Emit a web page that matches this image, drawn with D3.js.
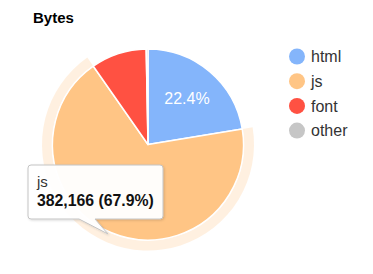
<!DOCTYPE html>
<html>
<head>
<meta charset="utf-8">
<script src="https://cdn.jsdelivr.net/npm/d3@7"></script>
<style>
  body { margin: 0; background: #fff; }
  svg { display: block; font-family: "Liberation Sans", Arial, sans-serif; }
</style>
</head>
<body>
<div id="chart"></div>
<script>
// data
var categories = ["html", "js", "font", "other"]
var bytes = [126100, 382166, 52900, 1700]
var colors = ["#84b5fb", "#ffc585", "#ff5142", "#c6c6c6"]
var hovered = 1   // js slice is highlighted with the tooltip

var width = 373,
    height = 274,
    cx = 148,
    cy = 144.5,
    r = 95.5

var total = d3.sum(bytes)
var fmt = d3.format(",")
var pct = function(v) { return (v / total * 100).toFixed(1) + "%" }

var svg = d3.select("#chart").append("svg")
    .attr("width", width)
    .attr("height", height)

svg.append("text")
    .attr("x", 33)
    .attr("y", 23)
    .attr("font-size", 15)
    .attr("font-weight", "bold")
    .attr("fill", "#000")
    .text("Bytes")

var pie = d3.pie().sort(null).value(function(d) { return d })
var arcs = pie(bytes)

var arc = d3.arc().innerRadius(0).outerRadius(r)
var labelArc = d3.arc().innerRadius(0).outerRadius(r * 1.26)
var halo = d3.arc().innerRadius(r + 0.5).outerRadius(r + 10.5)

var g = svg.append("g")
    .attr("transform", "translate(" + cx + "," + cy + ")")

// halo behind the hovered slice
g.append("path")
    .attr("d", halo(arcs[hovered]))
    .attr("fill", colors[hovered])
    .attr("fill-opacity", 0.25)

g.selectAll("path.slice")
    .data(arcs)
  .enter().append("path")
    .attr("class", "slice")
    .attr("d", arc)
    .attr("fill", function(d, i) { return colors[i] })
    .attr("stroke", "#fff")
    .attr("stroke-width", 1.5)
    .attr("stroke-linejoin", "round")

// only the html label is visible in the picture
g.append("text")
    .attr("transform", "translate(" + labelArc.centroid(arcs[0]) + ")")
    .attr("text-anchor", "middle")
    .attr("dy", "0.35em")
    .attr("font-size", 16)
    .attr("fill", "#fff")
    .text(pct(bytes[0]))

// legend
var legend = svg.selectAll("g.legend")
    .data(categories)
  .enter().append("g")
    .attr("class", "legend")
    .attr("transform", function(d, i) { return "translate(297," + (56.5 + i * 24.7) + ")" })

legend.append("circle")
    .attr("r", 8)
    .attr("fill", function(d, i) { return colors[i] })

legend.append("text")
    .attr("x", 14)
    .attr("dy", "0.35em")
    .attr("font-size", 16)
    .attr("fill", "#333")
    .text(function(d) { return d })

// tooltip
var tip = svg.append("g")
var bx = 28, by = 165, bw = 135, bh = 54
var tail = [[79, by + bh], [95, by + bh], [108, 234]]

var defs = svg.append("defs")
var f = defs.append("filter").attr("id", "shadow").attr("x", "-20%").attr("y", "-20%").attr("width", "140%").attr("height", "150%")
f.append("feDropShadow").attr("dx", 1).attr("dy", 1).attr("stdDeviation", 1.2).attr("flood-color", "#000").attr("flood-opacity", 0.15)

var p = d3.path()
p.moveTo(bx + 3, by)
p.lineTo(bx + bw - 3, by)
p.arcTo(bx + bw, by, bx + bw, by + 3, 3)
p.lineTo(bx + bw, by + bh - 3)
p.arcTo(bx + bw, by + bh, bx + bw - 3, by + bh, 3)
p.lineTo(tail[1][0], tail[1][1])
p.lineTo(tail[2][0], tail[2][1])
p.lineTo(tail[0][0], tail[0][1])
p.lineTo(bx + 3, by + bh)
p.arcTo(bx, by + bh, bx, by + bh - 3, 3)
p.lineTo(bx, by + 3)
p.arcTo(bx, by, bx + 3, by, 3)
p.closePath()

tip.append("path")
    .attr("d", p.toString())
    .attr("fill", "#fff")
    .attr("fill-opacity", 0.96)
    .attr("stroke", "#c4c4c4")
    .attr("stroke-width", 1)
    .attr("filter", "url(#shadow)")

tip.append("text")
    .attr("x", 37)
    .attr("y", 187)
    .attr("font-size", 15)
    .attr("fill", "#333")
    .text(categories[hovered])

tip.append("text")
    .attr("x", 37)
    .attr("y", 206)
    .attr("font-size", 15.8)
    .attr("font-weight", "bold")
    .attr("fill", "#111")
    .text(fmt(bytes[hovered]) + " (" + pct(bytes[hovered]) + ")")
</script>
</body>
</html>
